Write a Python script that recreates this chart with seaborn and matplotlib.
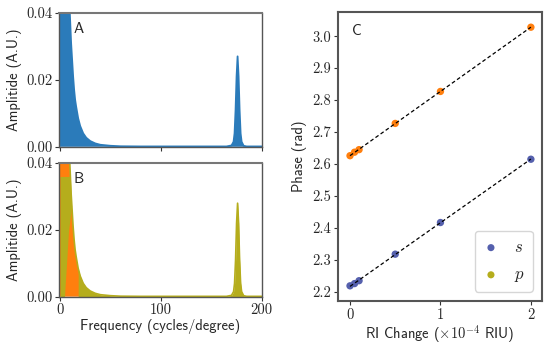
import numpy as np
import matplotlib
matplotlib.use("Agg")
import matplotlib.pyplot as plt
import seaborn as sns

# Spectrum (panel A and B), frequency in cycles/degree
freq = [0, 1, 2, 4, 6, 8, 9, 10, 11, 12, 13, 14, 15, 16, 18, 20, 23, 26, 30,
        35, 40, 50, 60, 80, 100, 120, 150, 165, 170, 172, 173, 174, 175, 176,
        177, 178, 179, 180, 182, 185, 200]
amp_a = [0.30, 0.25, 0.20, 0.12, 0.08, 0.05, 0.045, 0.038, 0.031, 0.026,
         0.021, 0.017, 0.014, 0.012, 0.0085, 0.0062, 0.004, 0.0027, 0.0017,
         0.001, 0.0006, 0.0003, 0.00015, 0.0001, 0.0001, 0.0001, 0.0001,
         0.0001, 0.0004, 0.0015, 0.004, 0.011, 0.021, 0.027, 0.021, 0.011,
         0.004, 0.0015, 0.0003, 0.0001, 0.0001]
amp_b = [0.30, 0.25, 0.20, 0.12, 0.08, 0.05, 0.045, 0.038, 0.031, 0.026,
         0.021, 0.017, 0.014, 0.012, 0.0085, 0.0062, 0.004, 0.0027, 0.0017,
         0.001, 0.0006, 0.0003, 0.00015, 0.0001, 0.0001, 0.0001, 0.0001,
         0.0001, 0.0004, 0.0015, 0.004, 0.011, 0.022, 0.028, 0.022, 0.011,
         0.004, 0.0015, 0.0003, 0.0001, 0.0001]
# olive block over the low-frequency part of panel B
block_amp = [0.0, 0.003, 0.01, 0.02, 0.027, 0.036]
block_freq = [4.5, 5.0, 6.5, 8.5, 11.5, 10.2]

# Panel C, phase vs RI change
ri_change = [0, 0.05, 0.1, 0.5, 1, 2]
phase_s = [2.219, 2.226, 2.235, 2.318, 2.417, 2.615]
phase_p = [2.626, 2.637, 2.645, 2.727, 2.827, 3.028]

blue = "#2b7bba"
orange = "#ff7f0e"
olive = "#b5ad1c"
s_col = "#5560ad"

sns.set_style("ticks")
plt.rcParams["mathtext.fontset"] = "cm"
plt.rcParams["axes.unicode_minus"] = False

fig = plt.figure(figsize=(5.5, 3.47), dpi=100)
ax_a = fig.add_axes([0.108, 0.577, 0.368, 0.386])
ax_b = fig.add_axes([0.108, 0.145, 0.368, 0.385])
ax_c = fig.add_axes([0.615, 0.133, 0.370, 0.831])

label_font = dict(family="cmss10", fontsize=10.5)

# Panel A
ax_a.fill_between(freq, amp_a, color=blue, lw=0)
sns.lineplot(x=freq, y=amp_a, ax=ax_a, color=blue, lw=1.3)

# Panel B
f_arr = np.array(freq)
a_arr = np.array(amp_b)
low = f_arr <= 20
ax_b.fill_between(f_arr[low], a_arr[low], color=orange, lw=0)
ax_b.fill_between(f_arr[f_arr >= 18], a_arr[f_arr >= 18], color=olive, lw=0)
ax_b.fill_betweenx(block_amp, 0, block_freq, color=olive, lw=0)
sns.lineplot(x=freq, y=amp_b, ax=ax_b, color=olive, lw=1.2)

for ax, letter in [(ax_a, "A"), (ax_b, "B")]:
    ax.set_xlim(-0.6, 200)
    ax.set_ylim(0, 0.04)
    ax.set_yticks([0, 0.02, 0.04])
    ax.set_yticklabels(["0.00", "0.02", "0.04"])
    ax.set_xticks([0, 100, 200])
    ax.set_ylabel("Amplitide (A.U.)", labelpad=3, **label_font)
    ax.text(0.07, 0.93, letter, transform=ax.transAxes, ha="left", va="top",
            family="cmss10", fontsize=11)
ax_a.set_xticklabels([])
ax_b.set_xticklabels(["0", "100", "200"])
ax_b.set_xlabel("Frequency (cycles/degree)", labelpad=1, **label_font)

# Panel C
for ph, col in [(phase_s, s_col), (phase_p, orange)]:
    k, b = np.polyfit(ri_change, ph, 1)
    xs = np.array([ri_change[0], ri_change[-1]])
    ax_c.plot(xs, k * xs + b, color="black", ls=(0, (3, 2)), lw=0.9, zorder=3)
    sns.scatterplot(x=ri_change, y=ph, ax=ax_c, color=col, s=28,
                    edgecolor="none", zorder=2)
ax_c.set_xlim(-0.13, 2.12)
ax_c.set_ylim(2.172, 3.074)
ax_c.set_xticks([0, 1, 2])
ax_c.set_yticks([2.2, 2.3, 2.4, 2.5, 2.6, 2.7, 2.8, 2.9, 3.0])
ax_c.set_xlabel(r"RI Change ($\times10^{-4}$ RIU)", labelpad=1, **label_font)
ax_c.set_ylabel("Phase (rad)", **label_font)
ax_c.text(0.07, 0.96, "C", transform=ax_c.transAxes, ha="left", va="top",
          family="cmss10", fontsize=11)

h_s = ax_c.scatter([], [], color=s_col, s=26, edgecolor="none")
h_p = ax_c.scatter([], [], color=olive, s=26, edgecolor="none")
leg = ax_c.legend([h_s, h_p], ["$s$", "$p$"], loc="lower right",
                  fontsize=12, handlelength=1.0, handletextpad=0.9,
                  borderpad=0.45, labelspacing=0.55, borderaxespad=0.55,
                  frameon=True)
leg.get_frame().set_edgecolor("#cccccc")

for ax in (ax_a, ax_b, ax_c):
    for lab in ax.get_xticklabels() + ax.get_yticklabels():
        lab.set_family("cmr10")
        lab.set_fontsize(10.5)
    ax.tick_params(length=3, width=0.8, pad=2, color="#333333")
    for sp in ax.spines.values():
        sp.set_color("#555555")
        sp.set_linewidth(1.0)
for sp in ax_c.spines.values():
    sp.set_linewidth(1.5)
for ax in (ax_a, ax_b):
    ax.spines["top"].set_linewidth(1.5)
    ax.spines["top"].set_color("#777777")

fig.savefig("out.png", dpi=100)
